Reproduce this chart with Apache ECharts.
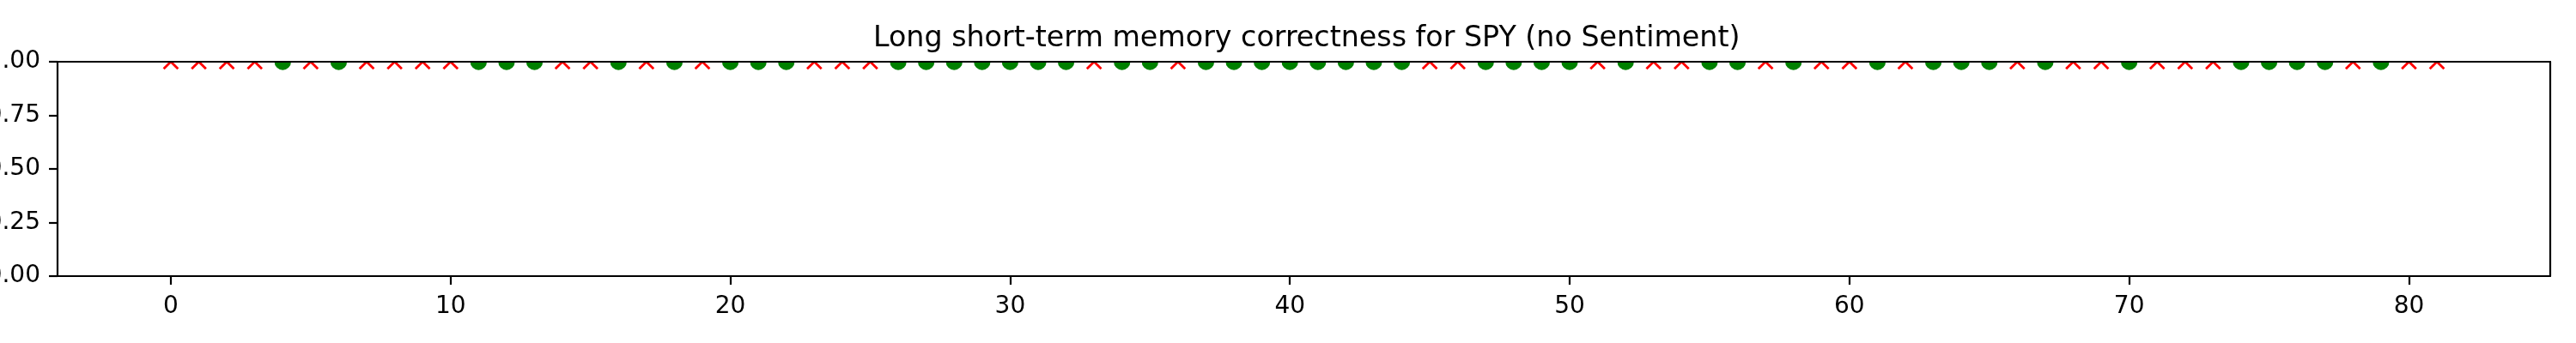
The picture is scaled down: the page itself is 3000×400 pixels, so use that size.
<!DOCTYPE html>
<html>
<head>
<meta charset="utf-8">
<script src="https://cdn.jsdelivr.net/npm/echarts@6/dist/echarts.min.js"></script>
<style>html,body{margin:0;padding:0;background:#fff}#c{width:3000px;height:400px}</style>
</head>
<body>
<div id="c"></div>
<script>
// Days on which the prediction direction was correct / incorrect
const correctDays = [4,6,11,12,13,16,18,20,21,22,26,27,28,29,30,31,32,34,35,37,38,39,40,41,42,43,44,47,48,49,50,52,55,56,58,61,63,64,65,67,70,74,75,76,77,79];
const wrongDays = [0,1,2,3,5,7,8,9,10,14,15,17,19,23,24,25,33,36,45,46,51,53,54,57,59,60,62,66,68,69,71,72,73,78,80,81];
const markerLevel = 1;
const xTickValues = [0,10,20,30,40,50,60,70,80];
const titleText = 'Long short-term memory correctness for SPY (no Sentiment)';

const FONT = 'DejaVu Sans';
const chart = echarts.init(document.getElementById('c'), null, {renderer: 'canvas'});

function clipRect(params) {
  const cs = params.coordSys;
  return {type: 'rect', shape: {x: cs.x, y: cs.y, width: cs.width, height: cs.height}};
}
const circleItem = function (params, api) {
  const p = api.coord([api.value(0), api.value(1)]);
  return {type: 'group', clipPath: clipRect(params), children: [
    {type: 'circle', shape: {cx: p[0], cy: p[1], r: 9.7}, style: {fill: '#008000'}}
  ]};
};
const crossItem = function (params, api) {
  const p = api.coord([api.value(0), api.value(1)]);
  const h = 8.35;
  const st = {stroke: '#ff0000', lineWidth: 2.8, lineCap: 'butt'};
  return {type: 'group', clipPath: clipRect(params), children: [
    {type: 'line', shape: {x1: p[0]-h, y1: p[1]-h, x2: p[0]+h, y2: p[1]+h}, style: st},
    {type: 'line', shape: {x1: p[0]-h, y1: p[1]+h, x2: p[0]+h, y2: p[1]-h}, style: st}
  ]};
};

const axisLineStyle = {color: '#000', width: 2.2};
chart.setOption({
  animation: false,
  backgroundColor: '#fff',
  title: {
    text: titleText, left: 1012, top: 24,
    textStyle: {fontFamily: FONT, fontSize: 33.3, fontWeight: 'normal', color: '#000'}
  },
  grid: {left: 67, right: 30, top: 72, bottom: 78, show: false, containLabel: false, outerBoundsMode: 'none'},
  xAxis: [{
    type: 'value', min: -4.05, max: 85.05, position: 'bottom', z: 10,
    splitLine: {show: false},
    axisLine: {show: true, onZero: false, lineStyle: axisLineStyle},
    axisTick: {show: true, length: 10, lineStyle: {color: '#000', width: 2.2}, customValues: xTickValues},
    axisLabel: {show: true, margin: 22, fontFamily: FONT, fontSize: 28, color: '#000', customValues: xTickValues, formatter: v => String(v)}
  }, {
    type: 'value', min: -4.05, max: 85.05, position: 'top', z: 10,
    splitLine: {show: false}, axisTick: {show: false}, axisLabel: {show: false},
    axisLine: {show: true, onZero: false, lineStyle: axisLineStyle}
  }],
  yAxis: [{
    type: 'value', min: 0, max: 1, interval: 0.25, position: 'left', z: 10,
    splitLine: {show: false},
    axisLine: {show: true, onZero: false, lineStyle: axisLineStyle},
    axisTick: {show: true, length: 10, lineStyle: {color: '#000', width: 2.2}},
    axisLabel: {show: true, margin: 20, fontFamily: FONT, fontSize: 28, color: '#000', formatter: v => v.toFixed(2)}
  }, {
    type: 'value', min: 0, max: 1, position: 'right', z: 10,
    splitLine: {show: false}, axisTick: {show: false}, axisLabel: {show: false},
    axisLine: {show: true, onZero: false, lineStyle: axisLineStyle}
  }],
  series: [{
    name: 'correct', type: 'custom', clip: true, z: 2,
    renderItem: circleItem,
    data: correctDays.map(d => [d, markerLevel])
  }, {
    name: 'incorrect', type: 'custom', clip: true, z: 2,
    renderItem: crossItem,
    data: wrongDays.map(d => [d, markerLevel])
  }]
});
</script>
</body>
</html>
